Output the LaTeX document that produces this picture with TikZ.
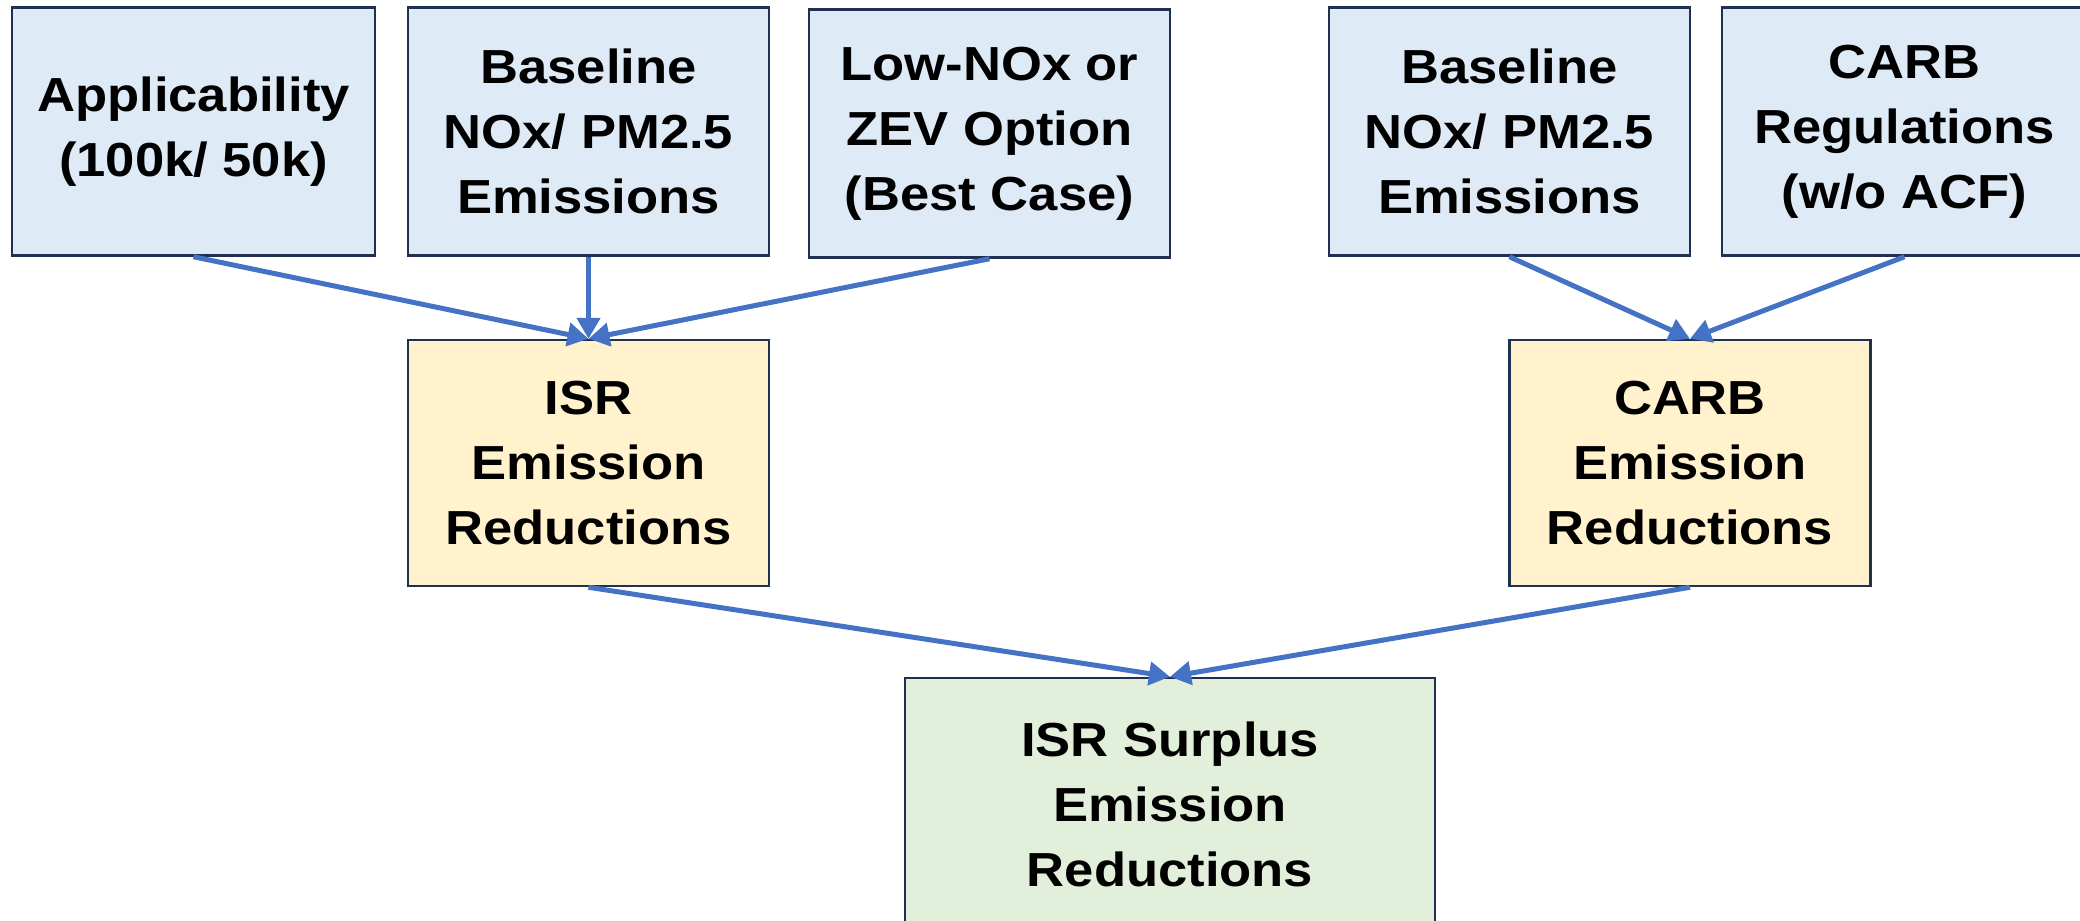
\documentclass[tikz,border=0pt]{standalone}
\usepackage{fontspec}
\setmainfont{Liberation Sans}[FakeStretch=1.1]
\usepackage{tikz}
\usepackage{xcolor}
\usetikzlibrary{arrows.meta}
\definecolor{boxline}{HTML}{203050}
\definecolor{arrowblue}{HTML}{4472C4}
\definecolor{inputfill}{HTML}{DEEAF6}
\definecolor{redfill}{HTML}{FFF2CC}
\definecolor{surplusfill}{HTML}{E2EFDA}

\begin{document}
\begin{tikzpicture}[every node/.style={font=\fontsize{13.6}{18.5}\selectfont\bfseries, align=center},
  box/.style={draw=boxline, line width=0.025cm, inner sep=0pt, minimum width=3.61cm, minimum height=2.48cm},
  arr/.style={draw=arrowblue, line width=0.05cm, -{Triangle[length=0.21cm, width=0.23cm]}}]
\useasboundingbox (0,0) rectangle (20.8,-9.2);
% Inputs
\node[box, fill=inputfill, minimum width=3.63cm] (appl) at (1.935,-1.315) {Applicability\\(100k/ 50k)};
\node[box, fill=inputfill] (baseisr) at (5.885,-1.315) {Baseline\\NOx/ PM2.5\\Emissions};
\node[box, fill=inputfill] (lownox) at (9.895,-1.335) {Low-NOx or\\ZEV Option\\(Best Case)};
\node[box, fill=inputfill] (basecarb) at (15.095,-1.315) {Baseline\\NOx/ PM2.5\\Emissions};
\node[box, fill=inputfill, minimum width=3.65cm] (carbreg) at (19.045,-1.315) {CARB\\Regulations\\(w/o ACF)};
% Reductions
\node[box, fill=redfill, minimum height=2.46cm] (isrred) at (5.885,-4.63) {ISR\\Emission\\Reductions};
\node[box, fill=redfill, minimum height=2.46cm] (carbred) at (16.9,-4.63) {CARB\\Emission\\Reductions};
% Surplus
\node[box, fill=surplusfill, minimum width=5.3cm, minimum height=2.52cm] (surplus) at (11.7,-8.04) {ISR Surplus\\Emission\\Reductions};
\draw[arr] (appl.south) -- (isrred.north);
\draw[arr] (baseisr.south) -- (isrred.north);
\draw[arr] (lownox.south) -- (isrred.north);
\draw[arr] (basecarb.south) -- (carbred.north);
\draw[arr] (carbreg.south) -- (carbred.north);
\draw[arr] (isrred.south) -- (surplus.north);
\draw[arr] (carbred.south) -- (surplus.north);
\end{tikzpicture}
\end{document}
